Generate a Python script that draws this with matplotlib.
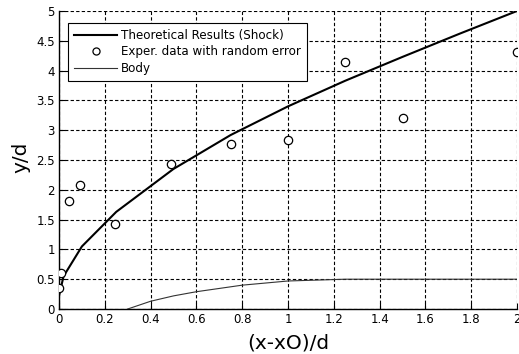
import matplotlib
matplotlib.use("Agg")
import matplotlib.pyplot as plt

# Shock position (theory)
shock_x = [0.0, 0.02, 0.1, 0.25, 0.5, 0.75, 1.0, 1.25, 1.5, 1.75, 2.0]
shock_y = [0.22, 0.55, 1.05, 1.63, 2.35, 2.92, 3.4, 3.83, 4.23, 4.62, 5.0]

# Experimental points with random error
exp_x = [0.0, 0.01, 0.045, 0.09, 0.245, 0.49, 0.75, 1.0, 1.25, 1.5, 2.0]
exp_y = [0.35, 0.6, 1.82, 2.08, 1.43, 2.43, 2.77, 2.84, 4.14, 3.2, 4.31]

# Body contour
body_x = [0.3, 0.4, 0.5, 0.6, 0.8, 1.0, 1.25, 1.5, 2.0]
body_y = [0.0, 0.13, 0.22, 0.29, 0.4, 0.47, 0.5, 0.5, 0.5]

xticks = [0, 0.2, 0.4, 0.6, 0.8, 1, 1.2, 1.4, 1.6, 1.8, 2]
xticklabels = ["0", "0.2", "0.4", "0.6", "0.8", "1", "1.2", "1.4", "1.6", "1.8", "2"]
yticks = [0, 0.5, 1, 1.5, 2, 2.5, 3, 3.5, 4, 4.5, 5]
yticklabels = ["0", "0.5", "1", "1.5", "2", "2.5", "3", "3.5", "4", "4.5", "5"]

plt.rcParams["font.family"] = ["DejaVu Sans"]

fig = plt.figure(figsize=(5.19, 3.54), dpi=100)
ax = fig.add_axes([59 / 519, 45 / 354, 458 / 519, 298 / 354])

ax.plot(shock_x, shock_y, color="black", lw=1.5, label="Theoretical Results (Shock)", zorder=3)
ax.plot(exp_x, exp_y, linestyle="none", marker="o", markersize=6,
        markerfacecolor="white", markeredgecolor="black", markeredgewidth=0.9,
        label="Exper. data with random error", zorder=4)
ax.plot(body_x, body_y, color="#333333", lw=0.8, label="Body", zorder=3)

ax.set_xlim(0, 2)
ax.set_ylim(0, 5)
ax.set_xticks(xticks)
ax.set_xticklabels(xticklabels)
ax.set_yticks(yticks)
ax.set_yticklabels(yticklabels)
ax.tick_params(direction="in", length=4, width=0.8, labelsize=8.5, colors="black", pad=3)

ax.grid(True, color="black", linestyle=(0, (3, 2)), linewidth=0.8)
ax.set_axisbelow(True)
ax.spines["top"].set_visible(False)
ax.spines["right"].set_visible(False)
ax.spines["left"].set_linewidth(1.0)
ax.spines["bottom"].set_linewidth(1.0)

ax.set_xlabel("(x-xO)/d", fontsize=14.5, labelpad=5)
ax.set_ylabel("y/d", fontsize=14.5)
ax.yaxis.set_label_coords(-0.063, 0.51)

leg = ax.legend(loc="upper left", bbox_to_anchor=(0.02, 0.96), fontsize=8.6,
                frameon=True, fancybox=False, edgecolor="black", framealpha=1,
                borderpad=0.5, labelspacing=0.3, handlelength=3.6, handletextpad=0.3,
                borderaxespad=0, markerscale=0.85)
leg.get_frame().set_linewidth(0.8)

fig.savefig("out.png", dpi=100)
